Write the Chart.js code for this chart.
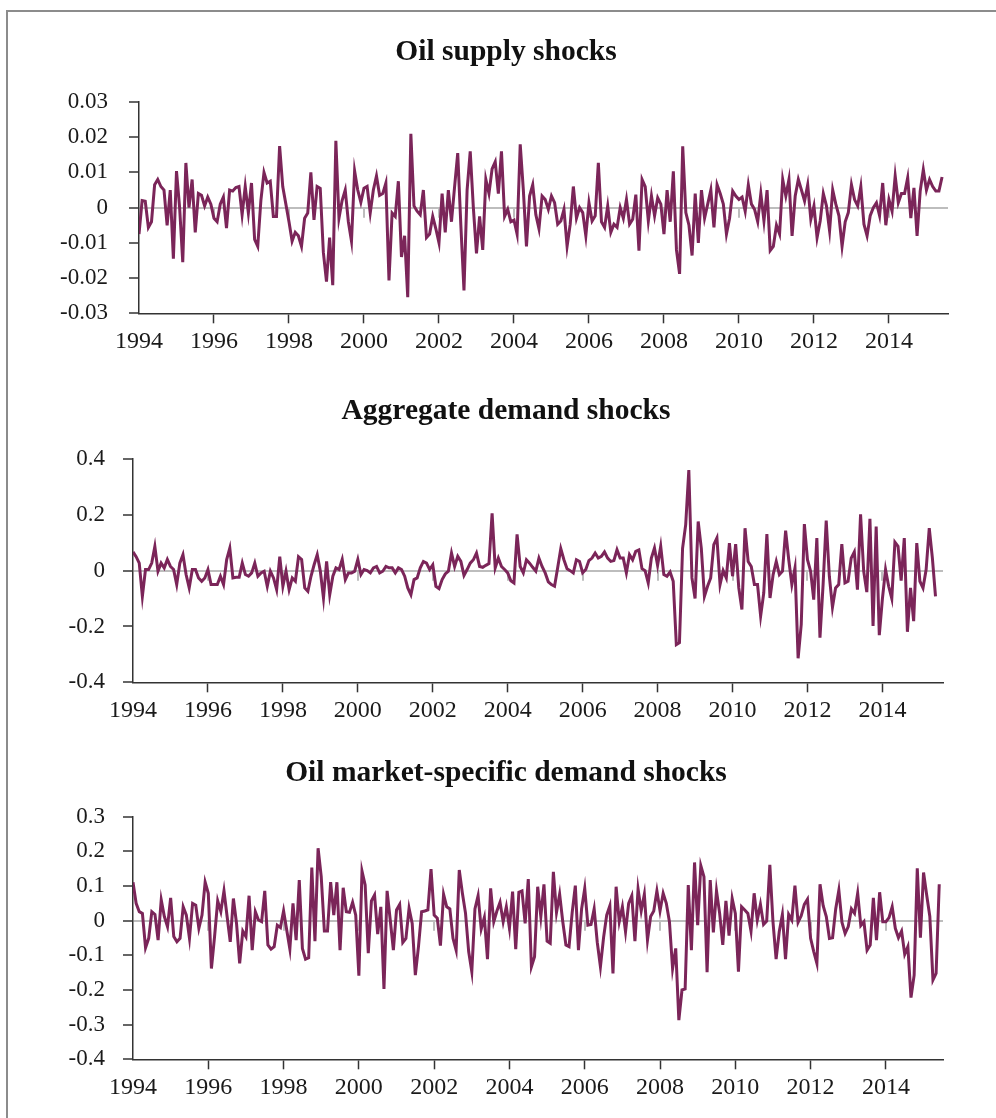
<!DOCTYPE html>
<html>
<head>
<meta charset="utf-8">
<title>Oil shocks</title>
<script src="https://cdn.jsdelivr.net/npm/chart.js@4.4.0/dist/chart.umd.min.js"></script>
<style>
  html, body { margin: 0; padding: 0; background: #fff; }
  #page { position: relative; width: 996px; height: 1118px; overflow: hidden; background: #fff; }
  #frame { position: absolute; left: 6px; top: 10px; width: 1100px; height: 1200px;
           border-top: 2px solid #8c8c8c; border-left: 2px solid #8c8c8c; }
  .panel { position: absolute; left: 0; width: 996px; }
  .panel canvas { display: block; }
</style>
</head>
<body>
<div id="page">
  <div id="frame"></div>
  <div class="panel" style="top:0px"><canvas id="supplyChart" width="996" height="370"></canvas></div>
  <div class="panel" style="top:370px"><canvas id="demandChart" width="996" height="365"></canvas></div>
  <div class="panel" style="top:735px"><canvas id="specificChart" width="996" height="383"></canvas></div>
</div>
<script>
// monthly series, Jan 1994 - Jun 2015
const startYear = 1994;
const tickYears = [1994, 1996, 1998, 2000, 2002, 2004, 2006, 2008, 2010, 2012, 2014];

const supplyShocks = [
  -0.0075, 0.002, 0.0018, -0.0056, -0.004, 0.0065, 0.008, 0.006, 0.005, -0.005, 0.005, -0.0145,
  0.0104, 0, -0.0155, 0.0127, 0, 0.008, -0.007, 0.004, 0.0035, 0.0005, 0.003, 0.001,
  -0.003, -0.004, 0.001, 0.003, -0.0058, 0.005, 0.0047, 0.0057, 0.006, -0.002, 0.006, -0.0015,
  0.007, -0.009, -0.011, 0.002, 0.010, 0.007, 0.0075, -0.0025, -0.0025, 0.0175, 0.006, 0.001,
  -0.004, -0.0095, -0.007, -0.008, -0.011, -0.003, -0.0015, 0.010, -0.0035, 0.006, 0.0055, -0.0127,
  -0.021, -0.0085, -0.022, 0.019, -0.003, 0.002, 0.005, -0.004, -0.0095, 0.0104, 0.005, 0.0015,
  0.0055, 0.006, -0.0015, 0.005, 0.009, 0.0035, 0.004, 0.007, -0.0207, -0.0015, -0.0025, 0.0075,
  -0.014, -0.008, -0.0254, 0.021, 0.0005, -0.001, -0.002, 0.005, -0.0085, -0.0075, -0.0025, -0.006,
  -0.01, 0.004, -0.007, 0.005, -0.004, 0.006, 0.0155, -0.005, -0.0235, 0.005, 0.016, 0,
  -0.013, -0.0025, -0.012, 0.008, 0.004, 0.011, 0.013, 0.004, 0.016, -0.0025, -0.0005, -0.004,
  -0.0035, -0.0075, 0.018, 0.005, -0.011, 0.0033, 0.0065, -0.002, -0.006, 0.0033, 0.0023, -0.0005,
  0.0033, 0.0014, -0.0047, -0.0038, -0.0005, -0.011, -0.0047, 0.006, -0.003, 0, -0.0014, -0.008,
  0.0014, -0.0038, -0.0023, 0.0127, -0.004, -0.0056, 0.0005, -0.007, -0.0047, -0.0056, 0, -0.003,
  0.0023, -0.0047, -0.0033, 0.0037, -0.0122, 0.008, 0.006, -0.0038, 0.0033, -0.0023, 0.0028, 0.001,
  -0.0075, 0.005, -0.004, 0.0103, -0.012, -0.0188, 0.0174, -0.0014, -0.005, -0.0136, 0.004, -0.01,
  0.005, -0.003, 0.001, 0.005, -0.0056, 0.0065, 0.004, 0.001, -0.0075, -0.003, 0.0047, 0.0033,
  0.0023, 0.003, -0.001, 0.0065, 0.001, -0.0005, -0.004, 0.004, -0.0038, 0.005, -0.0122, -0.011,
  -0.005, -0.0075, 0.008, 0.0033, 0.008, -0.008, 0.0033, 0.008, 0.005, 0.0019, 0.0065, -0.0033,
  0.0005, -0.0085, -0.0038, 0.004, 0.0005, -0.0066, 0.005, 0.001, -0.0023, -0.011, -0.004, -0.0014,
  0.0065, 0.0023, 0.0005, 0.006, -0.0047, -0.008, -0.0023, 0, 0.0014, -0.0023, 0.007, -0.005,
  0.0023, -0.001, 0.009, 0.0014, 0.004, 0.004, 0.0085, -0.003, 0.0056, -0.008, 0.0047, 0.0108,
  0.005, 0.008, 0.006, 0.0047, 0.0047, 0.0087
];

const demandShocks = [
  0.067, 0.05, 0.027, -0.092, 0.004, 0.004, 0.027, 0.087, -0.002, 0.027, 0.01, 0.04,
  0.015, 0.004, -0.05, 0.027, 0.057, -0.014, -0.062, 0.004, 0.004, -0.026, -0.038, -0.026,
  0.004, -0.05, -0.05, -0.05, -0.02, -0.05, 0.04, 0.081, -0.026, -0.024, -0.024, 0.027,
  -0.014, -0.02, -0.008, 0.027, -0.02, -0.008, -0.002, -0.056, -0.002, -0.026, -0.068, 0.05,
  -0.056, -0.002, -0.068, -0.026, -0.038, 0.05, 0.04, -0.062, -0.074, -0.02, 0.021, 0.057,
  -0.002, -0.098, 0.033, -0.086, -0.02, 0.01, 0.004, 0.04, -0.032, -0.008, -0.008, -0.002,
  0.04, -0.014, 0.004, 0, -0.008, 0.01, 0.015, -0.008, -0.002, 0.015, 0.01, 0.01,
  -0.008, 0.01, 0.004, -0.02, -0.062, -0.086, -0.032, -0.026, 0.01, 0.033, 0.027, 0.004,
  0.021, -0.056, -0.064, -0.032, -0.012, -0.002, 0.063, 0.015, 0.051, 0.033, -0.017, 0.004,
  0.027, 0.039, 0.063, 0.015, 0.012, 0.019, 0.025, 0.205, 0.01, 0.045, 0.015, 0.004,
  -0.008, -0.036, -0.044, 0.13, 0.015, -0.008, 0.039, 0.027, 0.012, -0.002, 0.045, 0.015,
  -0.008, -0.04, -0.05, -0.056, 0.01, 0.079, 0.039, 0.007, 0, -0.008, 0.039, 0.033,
  -0.008, 0.004, 0.036, 0.045, 0.063, 0.045, 0.051, 0.067, 0.045, 0.033, 0.036, 0.075,
  0.045, 0.045, -0.008, 0.057, 0.039, 0.069, 0.074, 0.007, 0, -0.044, 0.045, 0.081,
  0.019, 0.087, -0.014, -0.02, -0.005, -0.038, -0.265, -0.258, 0.08, 0.165, 0.36, -0.026,
  -0.1, 0.176, 0.08, -0.092, -0.056, -0.026, 0.093, 0.117, -0.05, 0, -0.026, 0.099,
  -0.02, 0.095, -0.062, -0.139, 0.152, 0.033, 0.015, -0.05, -0.05, -0.163, -0.08, 0.131,
  -0.098, -0.014, 0.033, -0.014, -0.002, 0.143, 0.039, -0.05, 0.01, -0.314, -0.193, 0.167,
  0.039, -0.002, -0.104, 0.117, -0.24, -0.05, 0.179, -0.02, -0.131, -0.062, -0.05, 0.095,
  -0.044, -0.038, 0.045, 0.067, -0.068, 0.202, -0.002, -0.077, 0.186, -0.198, 0.158, -0.231,
  -0.1, 0.004, -0.056, -0.1, 0.102, 0.087, -0.036, 0.117, -0.219, -0.062, -0.181, 0.099,
  -0.038, -0.062, 0.004, 0.152, 0.045, -0.092
];

const specificShocks = [
  0.111, 0.05, 0.026, 0.021, -0.078, -0.051, 0.026, 0.018, -0.056, 0.06, 0.012, -0.017,
  0.066, -0.046, -0.061, -0.051, 0.04, 0.016, -0.051, 0.05, 0.045, -0.022, 0.016, 0.111,
  0.079, -0.138, -0.046, 0.057, 0.026, 0.086, 0.012, -0.061, 0.064, -0.008, -0.123, -0.03,
  -0.046, 0.072, -0.085, 0.026, 0.002, -0.003, 0.086, -0.07, -0.082, -0.075, -0.013, -0.02,
  0.028, -0.027, -0.082, 0.05, -0.056, 0.117, -0.08, -0.111, -0.107, 0.153, -0.059, 0.209,
  0.127, -0.03, -0.03, 0.111, 0.016, 0.111, -0.085, 0.095, 0.026, 0.024, 0.053, 0.016,
  -0.159, 0.143, 0.103, -0.094, 0.057, 0.074, -0.039, 0.04, -0.197, 0.086, 0.002, -0.085,
  0.031, 0.047, -0.063, -0.051, 0.036, -0.008, -0.157, -0.075, 0.026, 0.028, 0.031, 0.149,
  0.016, 0.007, -0.072, 0.076, 0.04, 0.034, -0.051, -0.085, 0.146, 0.079, 0.021, -0.089,
  -0.147, 0.034, 0.072, -0.024, 0.009, -0.111, 0.093, -0.003, 0.028, 0.053, -0.003, 0.04,
  -0.022, 0.084, -0.082, 0.082, 0.086, -0.008, 0.12, -0.133, -0.104, 0.098, 0.012, 0.105,
  -0.059, -0.065, 0.141, 0.024, 0.076, -0.003, -0.07, -0.075, 0.024, 0.101, -0.085, 0.034,
  0.093, -0.013, -0.011, 0.034, -0.063, -0.133, -0.049, 0.016, 0.043, -0.152, 0.098, -0.003,
  0.04, -0.032, 0.05, 0.072, -0.059, 0.091, 0.028, 0.076, -0.056, 0.012, 0.028, 0.086,
  0.028, 0.079, 0.05, -0.003, -0.138, -0.08, -0.287, -0.2, -0.197, 0.103, -0.085, 0.168,
  -0.013, 0.159, 0.127, -0.149, 0.117, -0.034, 0.086, 0.021, -0.07, 0.057, -0.043, 0.064,
  0.021, -0.147, 0.04, 0.031, 0.021, -0.03, 0.079, 0.002, 0.047, -0.011, -0.001, 0.161,
  -0.003, -0.111, -0.032, 0.018, -0.111, 0.018, 0.002, 0.101, -0.005, 0.014, 0.047, 0.062,
  -0.051, -0.089, -0.123, 0.105, 0.043, 0.012, -0.051, -0.049, 0.034, 0.088, -0.005, -0.037,
  -0.017, 0.034, 0.021, 0.079, -0.014, -0.003, -0.085, -0.07, 0.066, -0.056, 0.082, -0.003,
  -0.003, 0.009, 0.04, -0.022, -0.049, -0.03, -0.097, -0.075, -0.222, -0.157, 0.151, -0.049,
  0.139, 0.074, 0.012, -0.171, -0.152, 0.105
];

const lineColor = '#7b2559';
const axisColor = '#333333';
const zeroColor = '#bdbdbd';
const serif = "'Liberation Serif', 'Times New Roman', serif";

Chart.defaults.font.family = serif;
Chart.defaults.color = '#1a1a1a';

function fmtValue(v) {
  const r = Math.round(v * 1000) / 1000;
  return r === 0 ? '0' : String(r);
}

// small grey ticks hanging under the zero line, mostly hidden by the series
const zeroLineTicks = {
  id: 'zeroLineTicks',
  beforeDatasetsDraw(chart) {
    const { ctx, scales: { x, y } } = chart;
    const y0 = y.getPixelForValue(0);
    ctx.save();
    ctx.strokeStyle = zeroColor;
    ctx.lineWidth = 2;
    tickYears.forEach(yr => {
      if (yr === startYear) return;
      const px = Math.round(x.getPixelForValue((yr - startYear) * 12));
      ctx.beginPath();
      ctx.moveTo(px, y0);
      ctx.lineTo(px, y0 + 10);
      ctx.stroke();
    });
    ctx.restore();
  }
};

// panel heading, centred on the page rather than on the plot area
const panelTitle = {
  id: 'panelTitle',
  afterDraw(chart, args, opts) {
    const ctx = chart.ctx;
    ctx.save();
    ctx.font = 'bold 29.5px ' + serif;
    ctx.fillStyle = '#111';
    ctx.textAlign = 'center';
    ctx.textBaseline = 'middle';
    ctx.fillText(opts.text, opts.x, opts.y);
    ctx.restore();
  }
};

function makePanel(id, title, values, yr, box) {
  const el = document.getElementById(id);
  return new Chart(el, {
    type: 'line',
    data: {
      datasets: [{
        data: values.map((v, i) => ({ x: i, y: v })),
        borderColor: lineColor,
        borderWidth: 3,
        pointRadius: 0,
        tension: 0,
        fill: false
      }]
    },
    options: {
      responsive: false,
      animation: false,
      events: [],
      layout: { padding: { left: 40, right: box.padRight, top: box.top, bottom: 0 } },
      plugins: {
        legend: { display: false },
        tooltip: { enabled: false },
        title: { display: false },
        panelTitle: { text: title, x: 506, y: box.titleY }
      },
      scales: {
        x: {
          type: 'linear',
          min: 0,
          max: box.xMax,
          afterBuildTicks: s => { s.ticks = tickYears.map(y => ({ value: (y - startYear) * 12 })); },
          afterFit: s => { s.height = box.xHeight; },
          ticks: {
            autoSkip: false,
            maxRotation: 0,
            padding: 4,
            color: '#1a1a1a',
            font: { size: 24 },
            callback: v => String(startYear + v / 12)
          },
          grid: {
            drawOnChartArea: false,
            tickLength: 10,
            tickWidth: 1.5,
            tickColor: c => (c.tick && c.tick.value === 0 ? 'rgba(0,0,0,0)' : axisColor)
          },
          border: { color: axisColor, width: 1.5 }
        },
        y: {
          min: yr.min,
          max: yr.max,
          afterFit: s => { s.width = box.left - 40; },
          ticks: {
            stepSize: yr.step,
            padding: box.yPad,
            color: '#1a1a1a',
            font: { size: 23 },
            callback: v => fmtValue(v)
          },
          grid: {
            drawOnChartArea: true,
            tickLength: 10,
            lineWidth: 2,
            tickWidth: 1.5,
            color: c => (c.tick && Math.abs(c.tick.value) < 1e-9 ? zeroColor : 'rgba(0,0,0,0)'),
            tickColor: axisColor
          },
          border: { color: axisColor, width: 1.5 }
        }
      }
    },
    plugins: [zeroLineTicks, panelTitle]
  });
}

makePanel('supplyChart', 'Oil supply shocks', supplyShocks,
  { min: -0.03, max: 0.03, step: 0.01 },
  { left: 139, padRight: 48, top: 102, titleY: 52.5, yPad: 21, xHeight: 56.7, xMax: 258.9 });

makePanel('demandChart', 'Aggregate demand shocks', demandShocks,
  { min: -0.4, max: 0.4, step: 0.2 },
  { left: 133, padRight: 53, top: 89, titleY: 41.5, yPad: 18, xHeight: 52.7, xMax: 259.4 });

makePanel('specificChart', 'Oil market-specific demand shocks', specificShocks,
  { min: -0.4, max: 0.3, step: 0.1 },
  { left: 133, padRight: 53, top: 81.7, titleY: 38.5, yPad: 18, xHeight: 58.7, xMax: 258.2 });
</script>
</body>
</html>
